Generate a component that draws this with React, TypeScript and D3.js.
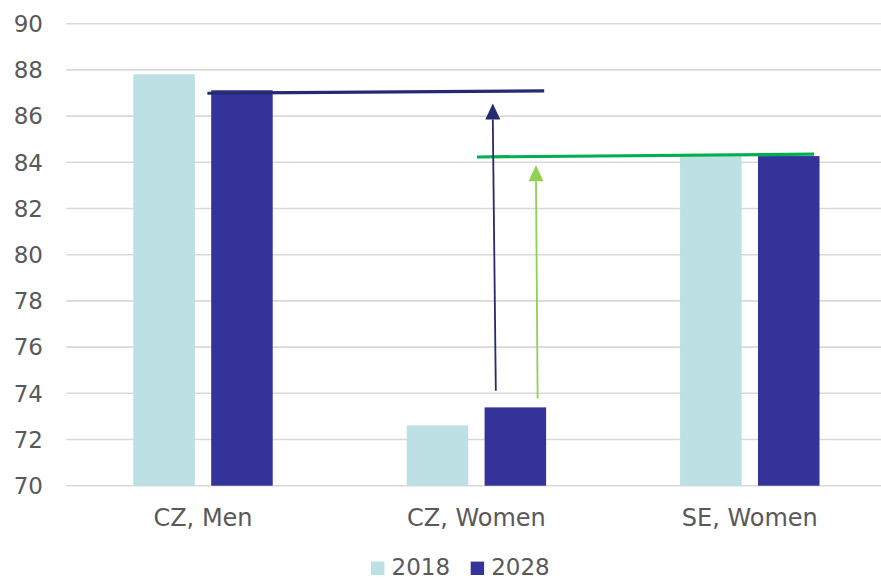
import React from "react";
import * as d3 from "d3";

// Life expectancy by group, two reference years
const categories = ["CZ, Men", "CZ, Women", "SE, Women"];
const seriesNames = ["2018", "2028"];
const values2018 = [87.81, 72.61, 84.25];
const values2028 = [87.12, 73.39, 84.27];
const yTicks = [70, 72, 74, 76, 78, 80, 82, 84, 86, 88, 90];

// Reference lines: [x0, x1] in category-index units, [v0, v1] in axis values
const refLineX = [
  [0.516, 1.748],
  [1.502, 2.735],
];
const refLineV = [
  [86.99, 87.09],
  [84.23, 84.35],
];
// Gap arrows: [xFrom, xTo] in category-index units, [vFrom, vTo] in axis values
const arrowX = [
  [1.571, 1.56],
  [1.724, 1.718],
];
const arrowV = [
  [74.11, 86.55],
  [73.77, 83.87],
];

const W = 881;
const H = 580;
const COLORS = ["#bce0e3", "#343399"];
const LINE_COLORS = ["#262a70", "#00b050"];
const ARROW_COLORS = ["#262a70", "#92d050"];
const FONT = "'DejaVu Sans', Verdana, sans-serif";
const TEXT = "#595959";

export default function App() {
  const left = 66.3;
  const right = 886.5;
  const y = d3.scaleLinear().domain([70, 90]).range([485.7, 23.7]);
  const x0 = d3
    .scaleBand<string>()
    .domain(categories)
    .range([left, right])
    .paddingInner(0.49)
    .paddingOuter(0.245);
  const x1 = d3
    .scaleBand<string>()
    .domain(seriesNames)
    .range([0, x0.bandwidth()])
    .paddingInner(0.21);
  const xi = d3.scaleLinear().domain([0, 3]).range([left, right]);

  const series = [values2018, values2028];

  return (
    <svg
      width={W}
      height={H}
      style={{ position: "absolute", left: 0, top: 0, background: "#fff" }}
      fontFamily={FONT}
    >
      {/* gridlines */}
      {yTicks.map((t) => (
        <line
          key={t}
          x1={left}
          x2={W}
          y1={y(t)}
          y2={y(t)}
          stroke="#d9d9d9"
          strokeWidth={1.6}
        />
      ))}
      {/* y tick labels */}
      {yTicks.map((t) => (
        <text
          key={"l" + t}
          x={43}
          y={y(t)}
          dy="0.36em"
          textAnchor="end"
          fontSize={23}
          fill={TEXT}
        >
          {t}
        </text>
      ))}
      {/* bars */}
      {categories.map((c, ci) =>
        seriesNames.map((s, si) => {
          const v = series[si][ci];
          return (
            <rect
              key={c + s}
              x={(x0(c) ?? 0) + (x1(s) ?? 0)}
              y={y(v)}
              width={x1.bandwidth()}
              height={y(70) - y(v)}
              fill={COLORS[si]}
            />
          );
        })
      )}
      {/* category labels */}
      {categories.map((c) => (
        <text
          key={"c" + c}
          x={(x0(c) ?? 0) + x0.bandwidth() / 2}
          y={526}
          textAnchor="middle"
          fontSize={24}
          fill={TEXT}
        >
          {c}
        </text>
      ))}
      {/* reference lines */}
      {refLineX.map((xs, i) => (
        <line
          key={"r" + i}
          x1={xi(xs[0])}
          x2={xi(xs[1])}
          y1={y(refLineV[i][0])}
          y2={y(refLineV[i][1])}
          stroke={LINE_COLORS[i]}
          strokeWidth={3.2}
        />
      ))}
      {/* arrows */}
      {arrowX.map((xs, i) => {
        const xa = xi(xs[0]);
        const ya = y(arrowV[i][0]);
        const xb = xi(xs[1]);
        const yb = y(arrowV[i][1]);
        const headLen = 16;
        const headW = 7.5;
        const baseY = yb + headLen;
        return (
          <g key={"a" + i}>
            <line
              x1={xa}
              y1={ya}
              x2={xb}
              y2={baseY}
              stroke={ARROW_COLORS[i]}
              strokeWidth={1.8}
            />
            <path
              d={`M${xb},${yb} L${xb + headW},${baseY} L${xb - headW},${baseY} Z`}
              fill={ARROW_COLORS[i]}
            />
          </g>
        );
      })}
      {/* legend */}
      {seriesNames.map((s, i) => {
        const lx = [371, 470.7][i];
        return (
          <g key={"lg" + s}>
            <rect x={lx} y={561.6} width={13.4} height={13.4} fill={COLORS[i]} />
            <text x={lx + 20.5} y={574.5} fontSize={23} fill={TEXT}>
              {s}
            </text>
          </g>
        );
      })}
    </svg>
  );
}
